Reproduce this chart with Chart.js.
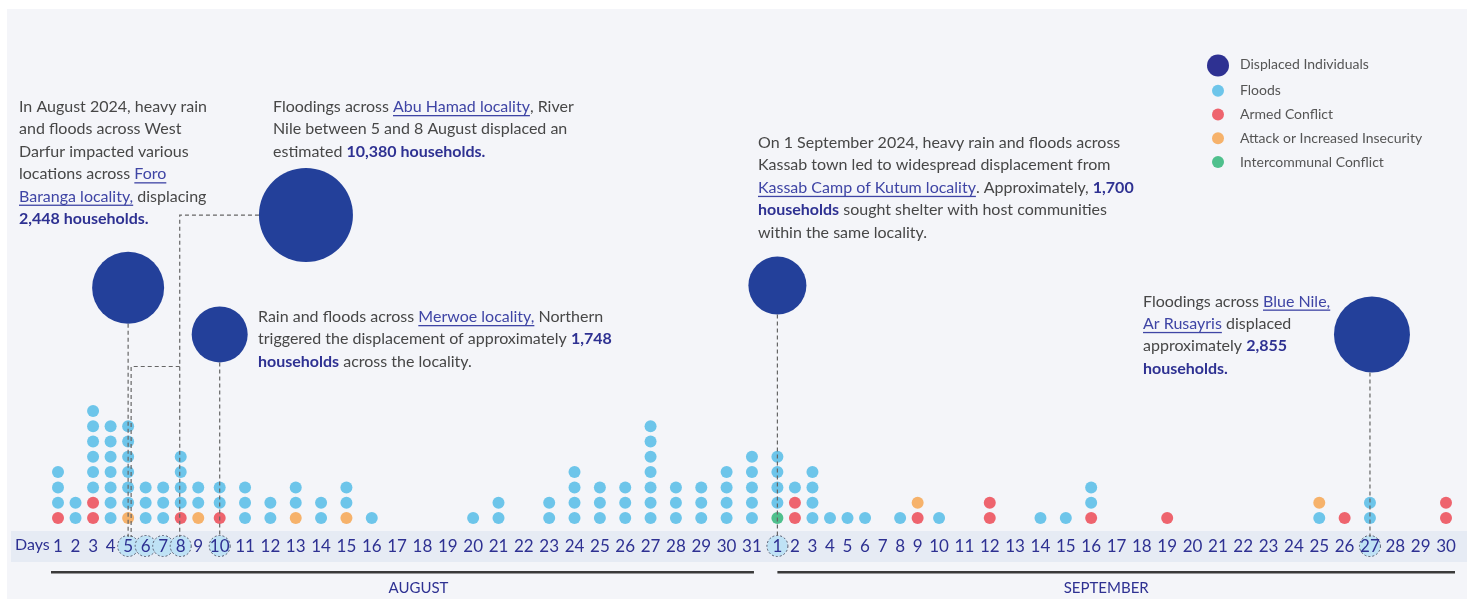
<!DOCTYPE html>
<html>
<head>
<meta charset="utf-8">
<script src="https://cdn.jsdelivr.net/npm/chart.js@4.4.1/dist/chart.umd.min.js"></script>
<style>
  html, body { margin: 0; padding: 0; background: #ffffff; }
  canvas { display: block; }
</style>
</head>
<body>
<canvas id="c" width="1467" height="599"></canvas>
<script>
// ---------------- DATA ----------------
const augustDays = ['1','2','3','4','5','6','7','8','9','10','11','12','13','14','15','16','17','18','19','20','21','22','23','24','25','26','27','28','29','30','31'];
const septemberDays = ['1','2','3','4','5','6','7','8','9','10','11','12','13','14','15','16','17','18','19','20','21','22','23','24','25','26','27','28','29','30'];
const dayLabels = augustDays.concat(septemberDays);

// incident counts per day (August 1-31, then September 1-30)
const floods = [3,2,6,7,6,3,3,4,2,2,3,2,2,2,2,1,0,0,0,1,2,0,2,4,3,3,7,3,3,4,5,
                4,1,4,1,1,1,0,1,0,1,0,0,0,1,1,2,0,0,0,0,0,0,0,0,1,0,2,0,0,0];
const armedConflict = [1,0,2,0,0,0,0,1,0,1,0,0,0,0,0,0,0,0,0,0,0,0,0,0,0,0,0,0,0,0,0,
                       0,2,0,0,0,0,0,0,1,0,0,2,0,0,0,1,0,0,1,0,0,0,0,0,0,1,0,0,0,2];
const attackInsecurity = [0,0,0,0,1,0,0,0,1,0,0,0,1,0,1,0,0,0,0,0,0,0,0,0,0,0,0,0,0,0,0,
                          0,0,0,0,0,0,0,0,1,0,0,0,0,0,0,0,0,0,0,0,0,0,0,0,1,0,0,0,0,0];
const intercommunal = [0,0,0,0,0,0,0,0,0,0,0,0,0,0,0,0,0,0,0,0,0,0,0,0,0,0,0,0,0,0,0,
                       1,0,0,0,0,0,0,0,0,0,0,0,0,0,0,0,0,0,0,0,0,0,0,0,0,0,0,0,0,0];

// displacement events (households)
const displacementDays = ['5 Aug','5-8 Aug','10 Aug','1 Sep','27 Sep'];
const displacementHouseholds = [2448, 10380, 1748, 1700, 2855];

// ---------------- LAYOUT / STYLE ----------------
const DIGIT = 7.8, GAP = 9.7, MONTH_GAP = 4;        // label flow widths
const xPos = [];
dayLabels.forEach((lab, i) => {
  if (i === 0) { xPos.push(0); return; }
  const adv = (dayLabels[i-1].length + lab.length) / 2 * DIGIT + GAP + (i === augustDays.length ? MONTH_GAP : 0);
  xPos.push(xPos[i-1] + adv);
});
// days whose flood dots sit at the bottom of the stack
const floodsFirstDays = [55];
// bubble placement: anchor day index, x shift, height (rows), radius (px)
const bubbleAnchor = [4, 7, 9, 31, 57];
const bubbleShift  = [0, 125, 0, 0, 2];
const bubbleRow    = [15.05, 19.8, 12.0, 15.2, 12.0];
const bubbleRadius = [36, 47, 28, 29, 38];
const highlightDays = [4, 5, 6, 7, 9, 31, 57];

const C_FLOOD = '#6dc5ea', C_ARMED = '#ee646e', C_ATTACK = '#f6b26b', C_INTER = '#4fc08d';
const C_BUBBLE = '#23409a', C_NAVY = '#2e3192', C_LINK = '#3f45a5', C_GRAY = '#474747';
const FONT = 'Lato, "Open Sans", sans-serif';

// stack the dots
function stackPoints() {
  const sets = { armed: [], attack: [], inter: [], floods: [] };
  dayLabels.forEach((_, i) => {
    let row = 0;
    const groups = [['armed', armedConflict], ['attack', attackInsecurity], ['inter', intercommunal], ['floods', floods]];
    if (floodsFirstDays.includes(i)) groups.unshift(groups.pop());
    groups.forEach(([key, arr]) => {
      for (let k = 0; k < arr[i]; k++) sets[key].push({x: xPos[i], y: row++});
    });
  });
  return sets;
}
const pts = stackPoints();
const bubbles = displacementHouseholds.map((h, i) => ({
  x: xPos[bubbleAnchor[i]] + bubbleShift[i], y: bubbleRow[i], r: bubbleRadius[i], households: h, label: displacementDays[i]
}));

// annotation texts: [text, style] n=normal, u=link, b=bold
const annotations = [
  { x: 19, y: 112, lines: [
    [['In August 2024, heavy rain','n']],
    [['and floods across West','n']],
    [['Darfur impacted various','n']],
    [['locations across ','n'],['Foro','u']],
    [['Baranga locality,','u'],[' displacing','n']],
    [['2,448 households.','b']] ]},
  { x: 273, y: 112, lines: [
    [['Floodings across ','n'],['Abu Hamad locality','u'],[', River','n']],
    [['Nile between 5 and 8 August displaced an','n']],
    [['estimated ','n'],['10,380 households.','b']] ]},
  { x: 258, y: 322, lines: [
    [['Rain and floods across ','n'],['Merwoe locality,','u'],[' Northern','n']],
    [['triggered the displacement of approximately ','n'],['1,748','b']],
    [['households','b'],[' across the locality.','n']] ]},
  { x: 758, y: 148, lines: [
    [['On 1 September 2024, heavy rain and floods across','n']],
    [['Kassab town led to widespread displacement from','n']],
    [['Kassab Camp of Kutum locality','u'],['. Approximately, ','n'],['1,700','b']],
    [['households','b'],[' sought shelter with host communities','n']],
    [['within the same locality.','n']] ]},
  { x: 1143, y: 306.5, lines: [
    [['Floodings across ','n'],['Blue Nile,','u']],
    [['Ar Rusayris','u'],[' displaced','n']],
    [['approximately ','n'],['2,855','b']],
    [['households.','b']] ]}
];
const legendItems = [
  ['Displaced Individuals', C_NAVY, 11],
  ['Floods', C_FLOOD, 6],
  ['Armed Conflict', C_ARMED, 6],
  ['Attack or Increased Insecurity', C_ATTACK, 6],
  ['Intercommunal Conflict', C_INTER, 6]
];

function drawRich(ctx, a) {
  ctx.save();
  ctx.textBaseline = 'alphabetic';
  ctx.textAlign = 'left';
  a.lines.forEach((segs, li) => {
    let cx = a.x; const by = a.y + li * 22.4;
    segs.forEach(([t, st]) => {
      ctx.font = (st === 'b' ? 'bold ' : '') + '16px ' + FONT;
      ctx.fillStyle = st === 'n' ? C_GRAY : (st === 'u' ? C_LINK : C_NAVY);
      ctx.fillText(t, cx, by);
      const w = ctx.measureText(t).width;
      if (st === 'u') {
        ctx.fillRect(cx, by + 3, w, 1.3);
      }
      cx += w;
    });
  });
  ctx.restore();
}

const decor = {
  id: 'decor',
  beforeDraw(chart) {
    const ctx = chart.ctx, xs = chart.scales.x;
    ctx.save();
    ctx.fillStyle = '#ffffff'; ctx.fillRect(0, 0, chart.width, chart.height);
    ctx.fillStyle = '#f4f5f9'; ctx.fillRect(7, 9, chart.width - 7, chart.height - 9);
    // days band
    ctx.fillStyle = '#e6ebf4'; ctx.fillRect(11, 531, chart.width - 11, 31);
    // highlighted day circles
    highlightDays.forEach(i => {
      const px = xs.getPixelForValue(xPos[i]);
      ctx.beginPath(); ctx.arc(px, 546, 10.5, 0, Math.PI * 2);
      ctx.fillStyle = '#bfe2f5'; ctx.fill();
      ctx.setLineDash([2, 2]); ctx.lineWidth = 1; ctx.strokeStyle = '#555a6e'; ctx.stroke();
    });
    ctx.setLineDash([]);
    // Days label
    ctx.fillStyle = C_NAVY; ctx.font = '16px ' + FONT; ctx.textBaseline = 'middle'; ctx.textAlign = 'left';
    ctx.fillText('Days', 15, 545);
    // month lines
    const a0 = xs.getPixelForValue(xPos[0]) - 7, a1 = xs.getPixelForValue(xPos[30]) + 2;
    const s0 = xs.getPixelForValue(xPos[31]), s1 = xs.getPixelForValue(xPos[60]) + 9;
    ctx.fillStyle = '#3a3a3a';
    ctx.fillRect(a0, 571, a1 - a0, 2.5);
    ctx.fillRect(s0, 571, s1 - s0, 2.5);
    ctx.font = '15px ' + FONT; ctx.textAlign = 'center'; ctx.fillStyle = C_NAVY;
    ctx.fillText('AUGUST', (a0 + a1) / 2 + 16, 588);
    ctx.fillText('SEPTEMBER', (s0 + s1) / 2 - 10, 588);
    // legend
    legendItems.forEach(([t, col, r], i) => {
      const y = i === 0 ? 65.5 : 90.7 + (i - 1) * 23.8;
      ctx.beginPath(); ctx.arc(1218, y, r, 0, Math.PI * 2); ctx.fillStyle = col; ctx.fill();
      ctx.font = '14px ' + FONT; ctx.fillStyle = '#555555'; ctx.textAlign = 'left'; ctx.textBaseline = 'middle';
      ctx.fillText(t, 1240, i === 0 ? 64 : y);
    });
    ctx.restore();
    annotations.forEach(a => drawRich(ctx, a));
  },
  afterDatasetsDraw(chart) {
    const ctx = chart.ctx, xs = chart.scales.x, ys = chart.scales.y;
    const END = 537;
    ctx.save();
    ctx.strokeStyle = '#666666'; ctx.lineWidth = 1.2; ctx.setLineDash([4, 3]);
    const bx = i => xs.getPixelForValue(bubbles[i].x), by = i => ys.getPixelForValue(bubbles[i].y);
    const line = (p) => { ctx.beginPath(); ctx.moveTo(p[0][0], p[0][1]); for (let k = 1; k < p.length; k++) ctx.lineTo(p[k][0], p[k][1]); ctx.stroke(); };
    [0, 2, 3, 4].forEach(i => {
      const x = xs.getPixelForValue(xPos[bubbleAnchor[i]]);
      line([[x, by(i) + bubbleRadius[i]], [x, END]]);
    });
    const x8 = xs.getPixelForValue(xPos[7]) - 1, x5 = xs.getPixelForValue(xPos[4]) + 3;
    const yb = ys.getPixelForValue(9.9);
    line([[bx(1) - bubbleRadius[1], by(1)], [x8, by(1)], [x8, END]]);
    line([[x8, yb], [x5, yb], [x5, END]]);
    ctx.restore();
  }
};

const common = { pointRadius: 6, pointHoverRadius: 6, borderWidth: 0, clip: false };
new Chart(document.getElementById('c'), {
  type: 'scatter',
  data: {
    datasets: [
      { type: 'bubble', label: 'Displaced Individuals', data: bubbles, backgroundColor: C_BUBBLE, borderWidth: 0, hoverRadius: 0, clip: false },
      Object.assign({ label: 'Armed Conflict', data: pts.armed, backgroundColor: C_ARMED }, common),
      Object.assign({ label: 'Attack or Increased Insecurity', data: pts.attack, backgroundColor: C_ATTACK }, common),
      Object.assign({ label: 'Intercommunal Conflict', data: pts.inter, backgroundColor: C_INTER }, common),
      Object.assign({ label: 'Floods', data: pts.floods, backgroundColor: C_FLOOD }, common)
    ]
  },
  options: {
    responsive: false,
    animation: false,
    events: [],
    layout: { autoPadding: false, padding: { left: 58, right: 21, top: 10, bottom: 37.6 } },
    plugins: { legend: { display: false }, tooltip: { enabled: false } },
    scales: {
      x: {
        type: 'linear', min: 0, max: xPos[xPos.length - 1], bounds: 'data',
        grid: { display: false, drawTicks: false }, border: { display: false },
        afterBuildTicks: s => { s.ticks = xPos.map(v => ({ value: v })); },
        ticks: { autoSkip: false, maxRotation: 0, minRotation: 0, padding: 5,
                 font: { family: FONT, size: 17 }, color: C_NAVY,
                 callback: (v, i) => dayLabels[i] }
      },
      y: { type: 'linear', min: -0.85, max: 33.2, display: false }
    }
  },
  plugins: [decor]
});
</script>
</body>
</html>
